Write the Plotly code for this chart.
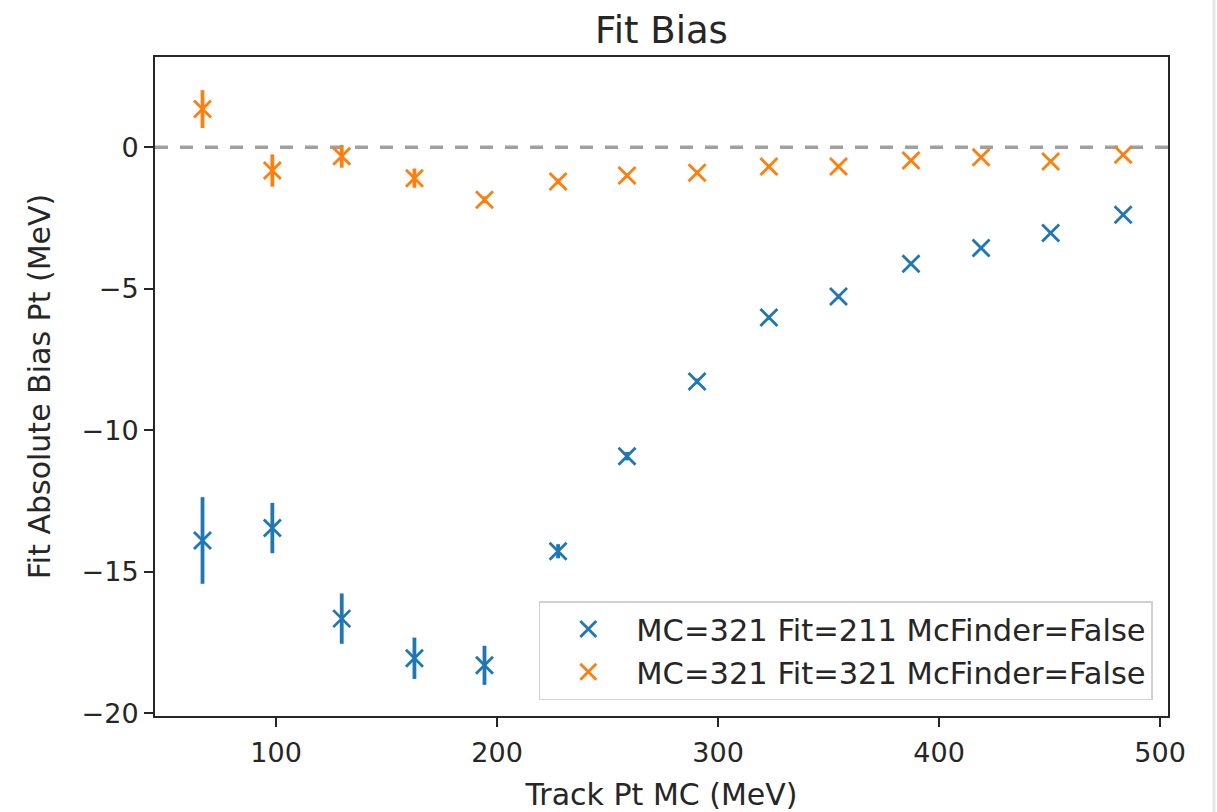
import plotly.graph_objects as go

# Data
track_pt = [66.7, 98.3, 129.7, 162.6, 194.3, 227.6, 258.8, 290.5, 323.0, 354.5, 387.3, 419.0, 450.5, 483.3]

bias_211 = [-13.89, -13.45, -16.65, -18.05, -18.30, -14.27, -10.91, -8.27, -6.01, -5.27, -4.11, -3.56, -3.03, -2.38]
err_211 = [1.53, 0.89, 0.89, 0.73, 0.69, 0.25, 0.15, 0.10, 0.08, 0.08, 0.07, 0.07, 0.06, 0.06]

bias_321 = [1.35, -0.82, -0.32, -1.09, -1.85, -1.21, -1.00, -0.90, -0.68, -0.68, -0.47, -0.35, -0.50, -0.26]
err_321 = [0.67, 0.57, 0.40, 0.34, 0.12, 0.10, 0.08, 0.08, 0.07, 0.07, 0.06, 0.06, 0.06, 0.05]

series_names = ["MC=321 Fit=211 McFinder=False", "MC=321 Fit=321 McFinder=False"]
colors = ["#1f77b4", "#ff7f0e"]

FONT = "DejaVu Sans"

fig = go.Figure()

for y, e, name, c in [(bias_211, err_211, series_names[0], colors[0]),
                      (bias_321, err_321, series_names[1], colors[1])]:
    fig.add_trace(go.Scatter(
        x=track_pt, y=y, mode="markers", name=name,
        marker=dict(symbol="x-thin", size=17, line=dict(width=2.8, color=c), color=c),
        error_y=dict(type="data", array=e, visible=True, color=c, thickness=3.8, width=0),
        showlegend=True,
    ))

# zero reference line
fig.add_shape(type="line", xref="paper", yref="y", x0=0, x1=1, y0=0, y1=0,
              line=dict(color="#a0a0a0", width=3.5, dash="13px,12px"), layer="below")

# light page border at right edge
fig.add_shape(type="line", xref="paper", yref="paper", x0=1.0454, x1=1.0454, y0=-0.2, y1=1.2,
              line=dict(color="#e6e6e6", width=3))

fig.update_layout(
    width=1217, height=812,
    margin=dict(l=155, r=49, t=57, b=96),
    paper_bgcolor="white", plot_bgcolor="white",
    font=dict(family=FONT, size=28, color="#262626"),
    title=dict(text="Fit Bias", x=0.5, xref="paper", y=1 - 30 / 812, yref="container",
               yanchor="middle", xanchor="center", font=dict(size=37, color="#262626")),
    legend=dict(x=0.985, xanchor="right", y=0.024, yanchor="bottom",
                bgcolor="rgba(255,255,255,0.8)", bordercolor="#d0d0d0", borderwidth=1.5,
                font=dict(size=30.5, color="#262626"), itemwidth=86),
    showlegend=True,
)

fig.update_xaxes(
    range=[45.2, 503.6], tickvals=[100, 200, 300, 400, 500],
    ticks="outside", ticklen=9, tickwidth=2, tickcolor="#262626",
    showline=True, linecolor="#262626", linewidth=2, mirror=True,
    showgrid=False, zeroline=False, automargin=False,
    title=dict(text="Track Pt MC (MeV)", font=dict(size=30), standoff=17),
    tickfont=dict(size=27), ticklabelstandoff=3,
)
fig.update_yaxes(
    range=[-20.09, 3.19], tickvals=[0, -5, -10, -15, -20],
    ticktext=["0", "\u22125", "\u221210", "\u221215", "\u221220"],
    ticks="outside", ticklen=9, tickwidth=2, tickcolor="#262626",
    showline=True, linecolor="#262626", linewidth=2, mirror=True,
    showgrid=False, zeroline=False, automargin=False,
    title=dict(text="Fit Absolute Bias Pt (MeV)", font=dict(size=30), standoff=22),
    tickfont=dict(size=27),
)

fig.write_html("out.html")
